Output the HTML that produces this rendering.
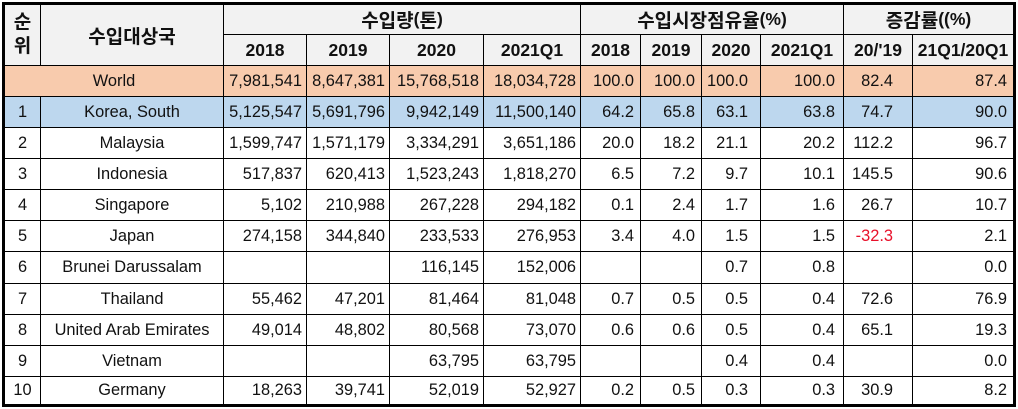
<!DOCTYPE html>
<html>
<head>
<meta charset="utf-8">
<style>
  html, body { margin: 0; padding: 0; background: #fff; }
  body { width: 1018px; height: 409px; position: relative; overflow: hidden; }
  .t {
    position: absolute; left: 2px; top: 2px;
    width: 1008px; height: 399px;
    padding: 3px;
    background: #000;
    display: flex; flex-direction: column; gap: 1px;
    font-family: "Liberation Sans", "Noto Sans CJK KR", sans-serif;
    font-size: 16.4px;
    color: #111;
  }
  .g {
    display: grid;
    grid-template-columns: 35px 182px 82px 82px 93px 96px 59px 60px 58px 82px 68px 100px;
    gap: 1px;
    flex: none;
  }
  .hd { grid-template-rows: 29px 30px; height: 60px; }
  .g > div {
    background: #fff;
    display: flex; align-items: center; justify-content: center;
    white-space: nowrap; overflow: hidden;
  }
  .h {
    background: #f2f2f2 !important;
    font-weight: bold; font-size: 17.5px; color: #111;
  }
  .k { font-size: 19px; }
  .w > div { background: #f8cbad !important; }
  .b > div { background: #bdd7ee !important; }
  .r4 { justify-content: flex-end !important; padding-right: 4px; }
  .r6 { justify-content: flex-end !important; padding-right: 6px; }
  .r10 { justify-content: flex-end !important; padding-right: 12px; }
  .r8 { justify-content: flex-end !important; padding-right: 8px; }
  .r14 { justify-content: flex-end !important; padding-right: 19px; }
  .red { color: #e8102a; }
  .sw { flex-direction: column; line-height: 24px; font-size: 19px !important; }
</style>
</head>
<body>
<div class="t">
  <div class="g hd">
    <div class="h sw" style="grid-column:1; grid-row:1 / span 2;"><span>순</span><span>위</span></div>
    <div class="h" style="grid-column:2; grid-row:1 / span 2;"><span class="k">수입대상국</span></div>
    <div class="h" style="grid-column:3 / span 4; grid-row:1;"><span class="k">수입량</span>(<span class="k">톤</span>)</div>
    <div class="h" style="grid-column:7 / span 4; grid-row:1;"><span class="k">수입시장점유율</span>(%)</div>
    <div class="h" style="grid-column:11 / span 2; grid-row:1;"><span class="k">증감률</span>((%)</div>
    <div class="h" style="grid-column:3; grid-row:2;">2018</div>
    <div class="h" style="grid-column:4; grid-row:2;">2019</div>
    <div class="h" style="grid-column:5; grid-row:2;">2020</div>
    <div class="h" style="grid-column:6; grid-row:2;">2021Q1</div>
    <div class="h" style="grid-column:7; grid-row:2;">2018</div>
    <div class="h" style="grid-column:8; grid-row:2;">2019</div>
    <div class="h" style="grid-column:9; grid-row:2;">2020</div>
    <div class="h" style="grid-column:10; grid-row:2;">2021Q1</div>
    <div class="h" style="grid-column:11; grid-row:2;">20/'19</div>
    <div class="h" style="grid-column:12; grid-row:2;">21Q1/20Q1</div>
  </div>

  <div class="g w" style="height:30px;">
    <div style="grid-column:1 / span 2;">World</div>
    <div class="r4">7,981,541</div><div class="r4">8,647,381</div><div class="r4">15,768,518</div><div class="r4">18,034,728</div>
    <div class="r6">100.0</div><div class="r6">100.0</div><div class="r10">100.0</div><div class="r8">100.0</div>
    <div class="r14">82.4</div><div class="r6">87.4</div>
  </div>

  <div class="g b" style="height:30px;">
    <div>1</div><div>Korea, South</div>
    <div class="r4">5,125,547</div><div class="r4">5,691,796</div><div class="r4">9,942,149</div><div class="r4">11,500,140</div>
    <div class="r6">64.2</div><div class="r6">65.8</div><div class="r10">63.1</div><div class="r8">63.8</div>
    <div class="r14">74.7</div><div class="r6">90.0</div>
  </div>

  <div class="g" style="height:30px;">
    <div>2</div><div>Malaysia</div>
    <div class="r4">1,599,747</div><div class="r4">1,571,179</div><div class="r4">3,334,291</div><div class="r4">3,651,186</div>
    <div class="r6">20.0</div><div class="r6">18.2</div><div class="r10">21.1</div><div class="r8">20.2</div>
    <div class="r14">112.2</div><div class="r6">96.7</div>
  </div>

  <div class="g" style="height:30px;">
    <div>3</div><div>Indonesia</div>
    <div class="r4">517,837</div><div class="r4">620,413</div><div class="r4">1,523,243</div><div class="r4">1,818,270</div>
    <div class="r6">6.5</div><div class="r6">7.2</div><div class="r10">9.7</div><div class="r8">10.1</div>
    <div class="r14">145.5</div><div class="r6">90.6</div>
  </div>

  <div class="g" style="height:30px;">
    <div>4</div><div>Singapore</div>
    <div class="r4">5,102</div><div class="r4">210,988</div><div class="r4">267,228</div><div class="r4">294,182</div>
    <div class="r6">0.1</div><div class="r6">2.4</div><div class="r10">1.7</div><div class="r8">1.6</div>
    <div class="r14">26.7</div><div class="r6">10.7</div>
  </div>

  <div class="g" style="height:30px;">
    <div>5</div><div>Japan</div>
    <div class="r4">274,158</div><div class="r4">344,840</div><div class="r4">233,533</div><div class="r4">276,953</div>
    <div class="r6">3.4</div><div class="r6">4.0</div><div class="r10">1.5</div><div class="r8">1.5</div>
    <div class="r14 red">-32.3</div><div class="r6">2.1</div>
  </div>

  <div class="g" style="height:31px;">
    <div>6</div><div>Brunei Darussalam</div>
    <div class="r4"></div><div class="r4"></div><div class="r4">116,145</div><div class="r4">152,006</div>
    <div class="r6"></div><div class="r6"></div><div class="r10">0.7</div><div class="r8">0.8</div>
    <div class="r14"></div><div class="r6">0.0</div>
  </div>

  <div class="g" style="height:30px;">
    <div>7</div><div>Thailand</div>
    <div class="r4">55,462</div><div class="r4">47,201</div><div class="r4">81,464</div><div class="r4">81,048</div>
    <div class="r6">0.7</div><div class="r6">0.5</div><div class="r10">0.5</div><div class="r8">0.4</div>
    <div class="r14">72.6</div><div class="r6">76.9</div>
  </div>

  <div class="g" style="height:30px;">
    <div>8</div><div>United Arab Emirates</div>
    <div class="r4">49,014</div><div class="r4">48,802</div><div class="r4">80,568</div><div class="r4">73,070</div>
    <div class="r6">0.6</div><div class="r6">0.6</div><div class="r10">0.5</div><div class="r8">0.4</div>
    <div class="r14">65.1</div><div class="r6">19.3</div>
  </div>

  <div class="g" style="height:30px;">
    <div>9</div><div>Vietnam</div>
    <div class="r4"></div><div class="r4"></div><div class="r4">63,795</div><div class="r4">63,795</div>
    <div class="r6"></div><div class="r6"></div><div class="r10">0.4</div><div class="r8">0.4</div>
    <div class="r14"></div><div class="r6">0.0</div>
  </div>

  <div class="g" style="height:27px;">
    <div>10</div><div>Germany</div>
    <div class="r4">18,263</div><div class="r4">39,741</div><div class="r4">52,019</div><div class="r4">52,927</div>
    <div class="r6">0.2</div><div class="r6">0.5</div><div class="r10">0.3</div><div class="r8">0.3</div>
    <div class="r14">30.9</div><div class="r6">8.2</div>
  </div>
</div>
</body>
</html>
